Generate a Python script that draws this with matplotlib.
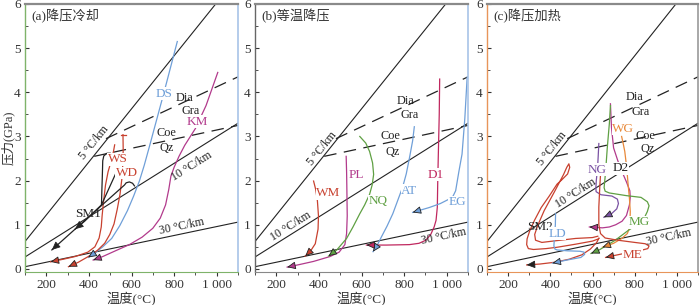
import numpy as np
import matplotlib
matplotlib.use('Agg')
import matplotlib.pyplot as plt
from matplotlib.ticker import MultipleLocator

plt.rcParams['font.family'] = ['Liberation Serif', 'Noto Sans CJK SC']
plt.rcParams['font.size'] = 8.5

# 地温梯度线 (两端点)
geo_T = [100, 1100]
geo5_P = [0.62, 6.63]
geo10_P = [0.27, 3.30]
geo30_P = [0.05, 1.06]
# 相变线
dia_T = [480, 1100]
dia_P = [2.95, 4.35]
coe_T = [425, 1100]
coe_P = [2.55, 3.25]

# (a) 降压冷却
DS_T = [815, 750, 684, 660, 637, 610, 581, 545, 507, 465, 428, 397]
DS_P = [5.15, 3.95, 2.77, 2.35, 1.99, 1.65, 1.32, 0.98, 0.69, 0.5, 0.36, 0.26]
KM_T = [1005, 950, 900, 850, 823, 800, 785, 775, 760, 735, 700, 650, 590, 520, 465, 420]
KM_P = [4.45, 3.7, 3.18, 2.8, 2.55, 2.3, 2.1, 1.8, 1.45, 1.15, 0.92, 0.72, 0.55, 0.4, 0.28, 0.2]
WS_T = [521, 515, 505, 490, 478, 468, 462, 458, 448, 428, 395, 335, 280, 220]
WS_P = [2.81, 2.65, 2.45, 2.2, 1.9, 1.5, 1.2, 0.95, 0.7, 0.5, 0.38, 0.28, 0.22, 0.16]
WD_T = [560, 561, 559, 555, 546, 533, 518, 498, 474, 440, 397, 350, 304]
WD_P = [3.04, 2.7, 2.36, 2.05, 1.69, 1.35, 1.02, 0.78, 0.58, 0.42, 0.28, 0.15, 0.05]
WD_cap_T = [550, 572]
WD_cap_P = [3.04, 3.04]
SM1a_T = [500, 485, 470, 465, 463, 461, 459, 420, 380, 335]
SM1a_P = [2.62, 2.62, 2.56, 2.45, 2.1, 1.8, 1.45, 1.27, 1.08, 0.9]
SM1b_T = [525, 459]
SM1b_P = [2.15, 1.45]
SM1c_T = [614, 605, 590, 575, 567, 226]
SM1c_P = [1.88, 1.94, 1.97, 1.95, 1.9, 0.43]

# (b) 等温降压
WM_T = [375, 385, 393, 398, 396, 383, 360, 336]
WM_P = [1.99, 1.8, 1.54, 1.2, 0.9, 0.57, 0.4, 0.29]
PL_T = [528, 530, 531, 533, 530, 522, 495, 452, 375, 310, 251]
PL_P = [2.55, 2.2, 1.9, 1.2, 0.8, 0.55, 0.38, 0.28, 0.17, 0.1, 0.04]
NQ_T = [592, 620, 638, 652, 657, 650, 638, 615, 592, 560, 530, 484, 445]
NQ_P = [3.0, 2.85, 2.66, 2.4, 2.14, 1.9, 1.69, 1.45, 1.25, 0.95, 0.69, 0.43, 0.29]
AT_T = [848, 840, 825, 810, 793, 770, 747, 720, 693, 670, 654]
AT_P = [3.22, 2.9, 2.51, 2.15, 1.85, 1.55, 1.25, 0.97, 0.72, 0.5, 0.39]
D1_T = [967, 965, 961, 958, 956, 950, 941, 925, 902, 870, 825, 716, 623]
D1_P = [4.3, 3.5, 2.66, 2.0, 1.4, 1.1, 0.95, 0.78, 0.65, 0.58, 0.55, 0.54, 0.54]
EG_T = [1096, 1085, 1072, 1057, 1042, 1030, 1011, 970, 918, 840]
EG_P = [4.34, 3.4, 2.6, 2.2, 1.77, 1.65, 1.58, 1.48, 1.39, 1.28]

# (c) 降压加热
SM2_T = [625, 600, 520, 430, 360, 330, 326, 340, 371, 420, 463, 478, 488, 492, 482, 455, 432, 395,
         357, 325, 303, 290, 288, 296, 320, 380, 432, 520, 600, 628, 631, 620, 590, 550, 490, 420, 350, 288]
SM2_P = [0.74, 0.71, 0.69, 0.64, 0.6, 0.65, 0.78, 0.98, 1.32, 1.75, 2.14, 2.3, 2.38, 2.3, 2.15, 2.02, 1.92, 1.65,
         1.39, 1.1, 0.87, 0.68, 0.55, 0.46, 0.44, 0.46, 0.49, 0.56, 0.63, 0.68, 0.7, 0.6, 0.45, 0.32, 0.22, 0.15, 0.11, 0.09]
LD_T = [425, 424, 420, 417, 422, 432, 480, 540, 560, 563, 545, 478, 410]
LD_P = [1.25, 1.0, 0.75, 0.52, 0.45, 0.43, 0.41, 0.4, 0.38, 0.33, 0.26, 0.2, 0.13]
NG_T = [630, 627, 624, 618, 616, 617, 640, 692, 718, 723, 715, 690, 654]
NG_P = [2.84, 2.55, 2.29, 2.0, 1.84, 1.75, 1.68, 1.65, 1.58, 1.48, 1.36, 1.25, 1.17]
D2_T = [685, 690, 700, 720, 739, 760, 777, 779, 775, 761, 740, 710, 680, 647, 585]
D2_P = [3.74, 3.2, 2.74, 2.45, 2.21, 1.98, 1.77, 1.62, 1.45, 1.21, 1.08, 1.0, 0.95, 0.93, 0.95]
WG_T = [738, 745, 753, 762, 769, 775, 779, 777, 765, 739, 700, 647]
WG_P = [3.0, 2.85, 2.66, 2.3, 1.9, 1.6, 1.3, 0.95, 0.8, 0.69, 0.58, 0.49]
MG_T = [685, 680, 670, 662, 655, 660, 680, 760, 830, 860, 868, 860, 845, 810, 769, 708, 632, 593]
MG_P = [3.7, 3.3, 2.74, 2.2, 1.84, 1.76, 1.72, 1.66, 1.62, 1.52, 1.43, 1.3, 1.15, 1.0, 0.87, 0.65, 0.43, 0.35]
ME_T = [640, 635, 630, 630, 638, 660, 720, 800, 850, 868, 862, 830, 760, 700, 662]
ME_P = [2.3, 1.9, 1.4, 1.0, 0.8, 0.7, 0.65, 0.6, 0.57, 0.52, 0.46, 0.42, 0.36, 0.3, 0.26]

BLUE = '#6f9fd8'
MAG = '#b23a8c'
RED = '#c8412f'
GREEN = '#5fa043'
CRIM = '#c0285f'
PURP = '#7a52a3'
ORNG = '#e8893a'
BLK = '#222222'

fig = plt.figure(figsize=(7, 3.05), dpi=100)
pos = [(25, 213), (255, 213), (487, 211)]
axes = [fig.add_axes([l / 700, 33 / 305, w / 700, 268 / 305]) for l, w in pos]
spine_cols = [('#7fb36a', '#7fb36a', '#a8c4e8'),
              ('#666666', '#888888', '#a8c4e8'),
              ('#e8955a', '#e8955a', '#999999')]
titles = ['(a)降压冷却', '(b)等温降压', '(c)降压加热']

for ax, (lc, bc, rc), t in zip(axes, spine_cols, titles):
    ax.set_xlim(100, 1100)
    ax.set_ylim(-0.07, 6)
    ax.spines['left'].set_color(lc)
    ax.spines['bottom'].set_color(bc)
    ax.spines['right'].set_color(rc)
    ax.spines['top'].set_color('#8a8a8a')
    ax.spines['top'].set_linewidth(1.6)
    ax.spines['left'].set_linewidth(1.0)
    ax.spines['right'].set_linewidth(1.2)
    ax.set_xticks([200, 400, 600, 800, 1000])
    ax.set_xticklabels(['200', '400', '600', '800', '1 000'])
    ax.xaxis.set_minor_locator(MultipleLocator(100))
    ax.yaxis.set_major_locator(MultipleLocator(1))
    ax.yaxis.set_minor_locator(MultipleLocator(0.5))
    ax.tick_params(axis='x', which='both', direction='out', labelsize=9.5, colors='#333333', pad=2)
    ax.tick_params(axis='x', which='major', length=3)
    ax.tick_params(axis='x', which='minor', length=2)
    ax.tick_params(axis='y', which='both', direction='in', labelsize=9.5, colors='#333333', pad=3)
    ax.tick_params(axis='y', which='major', length=3)
    ax.tick_params(axis='y', which='minor', length=2)
    ax.set_xlabel('温度(°C)', fontsize=9.5, labelpad=1, color='#333333')
    ax.text(0.03, 0.953, t, transform=ax.transAxes, fontsize=9.5, color='#333333', va='center')

    for gp in (geo5_P, geo10_P, geo30_P):
        ax.plot(geo_T, gp, color=BLK, lw=0.8)
    ax.plot(dia_T, dia_P, color=BLK, lw=0.9, dashes=(10, 6))
    ax.plot(coe_T, coe_P, color=BLK, lw=0.9, dashes=(10, 6))

axes[0].set_ylabel('压力(GPa)', fontsize=9, color='#333333', va='center')
axes[0].yaxis.set_label_coords(-0.078, 0.5)


def screen_angle(ax, T, P):
    (x1, y1), (x2, y2) = ax.transData.transform([(T[0], P[0]), (T[1], P[1])])
    return np.degrees(np.arctan2(y2 - y1, x2 - x1))


def curve(ax, T, P, color, arrow=True, head=None):
    ax.plot(T, P, color=color, lw=0.9, solid_joinstyle='round')
    if arrow:
        (x1, y1), (x2, y2) = ax.transData.transform([(T[-2], P[-2]), (T[-1], P[-1])])
        d = np.hypot(x2 - x1, y2 - y1)
        ux, uy = (x2 - x1) / d, (y2 - y1) / d
        ax.annotate('', xy=(T[-1], P[-1]), xytext=(-ux * 5, -uy * 5), textcoords='offset points',
                    arrowprops=dict(arrowstyle='-|>,head_length=0.6,head_width=0.27',
                                    fc=head or color, ec=BLK, lw=0.6, shrinkA=0, shrinkB=0))


def label(ax, x, y, s, color, box=True):
    ax.text(x, y, s, color=color, fontsize=9.5, ha='center', va='center',
            bbox=dict(fc='white', ec='none', pad=0.3) if box else None)


# 地温梯度与相变线标注
geo_lab = [
    [(423, 2.86), (884, 2.33), (837, 0.96)],
    [(415, 2.72), (267, 0.96), (987, 0.74)],
    [(410, 2.73), (520, 1.71), (960, 0.72)],
]
phase_lab = [
    [(847, 3.88), (879, 3.57), (763, 3.07), (767, 2.74)],
    [(809, 3.8), (825, 3.49), (737, 3.0), (745, 2.65)],
    [(800, 3.9), (830, 3.56), (852, 3.0), (860, 2.72)],
]
for ax, gl, pl in zip(axes, geo_lab, phase_lab):
    for (x, y), s, gp in zip(gl, ['5 °C/km', '10 °C/km', '30 °C/km'], (geo5_P, geo10_P, geo30_P)):
        ax.text(x, y, s, fontsize=8.5, color=BLK, ha='center', va='center',
                rotation=screen_angle(ax, geo_T, gp), rotation_mode='anchor')
    for (x, y), s in zip(pl, ['Dia', 'Gra', 'Coe', 'Qz']):
        ax.text(x, y, s, fontsize=8.8, color=BLK, ha='center', va='center')

# (a)
a = axes[0]
curve(a, DS_T, DS_P, BLUE)
curve(a, KM_T, KM_P, MAG)
curve(a, WS_T, WS_P, RED)
curve(a, WD_T, WD_P, RED)
curve(a, WD_cap_T, WD_cap_P, RED, arrow=False)
curve(a, SM1a_T, SM1a_P, BLK)
curve(a, SM1b_T, SM1b_P, BLK, arrow=False)
curve(a, SM1c_T, SM1c_P, BLK)
label(a, 753, 3.97, 'DS', BLUE)
label(a, 908, 3.33, 'KM', MAG)
label(a, 535, 2.48, 'WS', RED)
label(a, 578, 2.17, 'WD', RED)
label(a, 395, 1.24, 'SM1', BLK, box=False)

# (b)
b = axes[1]
curve(b, WM_T, WM_P, RED)
curve(b, PL_T, PL_P, MAG)
curve(b, NQ_T, NQ_P, GREEN)
curve(b, AT_T, AT_P, BLUE)
curve(b, D1_T, D1_P, CRIM)
curve(b, EG_T, EG_P, BLUE)
label(b, 445, 1.71, 'WM', RED)
label(b, 576, 2.13, 'PL', MAG)
label(b, 677, 1.54, 'NQ', GREEN)
label(b, 824, 1.77, 'AT', BLUE)
label(b, 948, 2.13, 'D1', CRIM)
label(b, 1050, 1.51, 'EG', BLUE)

# (c)
c = axes[2]
curve(c, SM2_T, SM2_P, RED, head=BLK)
curve(c, LD_T, LD_P, BLUE)
curve(c, NG_T, NG_P, PURP)
curve(c, D2_T, D2_P, MAG)
curve(c, WG_T, WG_P, ORNG)
curve(c, MG_T, MG_P, GREEN)
curve(c, ME_T, ME_P, RED)
label(c, 349, 0.96, 'SM2', BLK, box=False)
label(c, 432, 0.8, 'LD', BLUE)
label(c, 624, 2.25, 'NG', PURP)
label(c, 735, 2.28, 'D2', BLK)
label(c, 745, 3.18, 'WG', ORNG)
label(c, 822, 1.06, 'MG', GREEN)
label(c, 790, 0.31, 'ME', RED)

fig.savefig('out.png', dpi=100)
